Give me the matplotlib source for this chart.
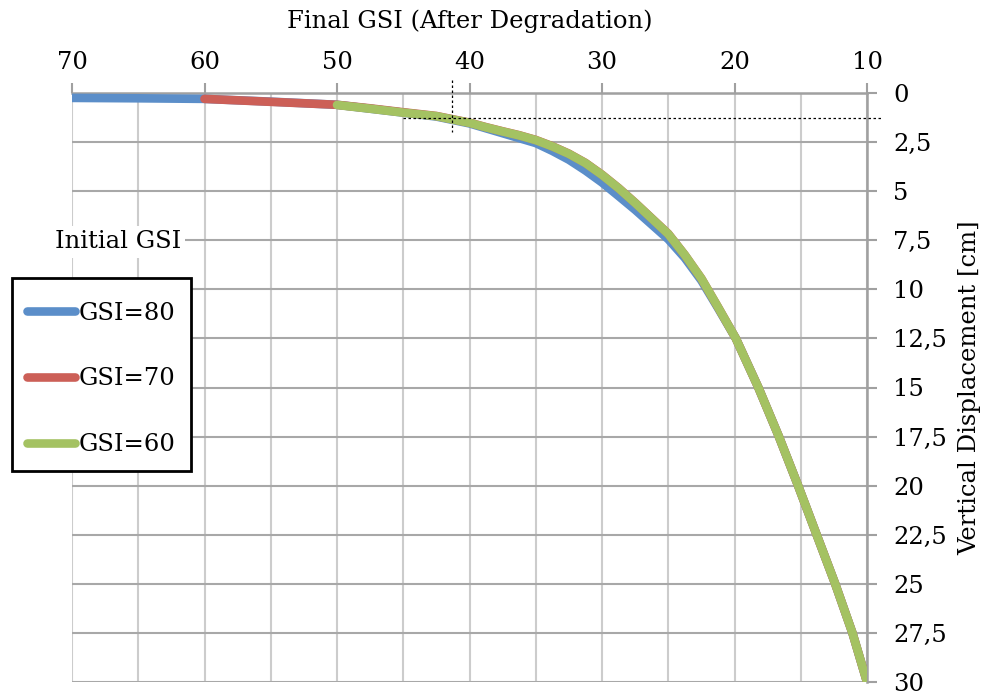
import matplotlib
matplotlib.use("Agg")
import matplotlib.pyplot as plt
from matplotlib.patches import Rectangle
from matplotlib.ticker import MultipleLocator, FuncFormatter

plt.rcParams['font.family'] = ['DejaVu Serif']

# final GSI after degradation vs vertical displacement [cm]
gsi80_x = [70, 65, 60, 55, 50, 45, 42.5, 40, 38.75, 37.5, 36.25, 35, 33.75, 32.5, 31.25, 30,
           28.75, 27.5, 26.25, 25, 23.75, 22.5, 21.25, 19.9, 18.2, 16.65, 15.2, 13.8, 12.4, 11.1, 10]
gsi80_y = [0.25, 0.27, 0.3, 0.44, 0.6, 1.0, 1.2, 1.55, 1.8, 2.05, 2.3, 2.55, 2.95, 3.4, 3.95, 4.56,
           5.25, 5.95, 6.7, 7.45, 8.4, 9.55, 10.95, 12.5, 15, 17.5, 20, 22.5, 25, 27.5, 30]

gsi70_x = [60, 55, 50, 47.5, 45, 42.5, 40, 38.75, 37.5, 36.25, 35, 33.75, 32.5, 31.25, 30,
           28.75, 27.5, 26.25, 25, 23.75, 22.5, 21.25, 19.9, 18.2, 16.65, 15.2, 13.8, 12.4, 11.1, 10]
gsi70_y = [0.3, 0.45, 0.6, 0.78, 0.98, 1.17, 1.51, 1.74, 1.95, 2.15, 2.39, 2.71, 3.09, 3.56, 4.16,
           4.84, 5.59, 6.38, 7.17, 8.25, 9.45, 10.9, 12.5, 15, 17.5, 20, 22.5, 25, 27.5, 30]

gsi60_x = [50, 47.5, 45, 42.5, 40, 38.75, 37.5, 36.25, 35, 33.75, 32.5, 31.25, 30,
           28.75, 27.5, 26.25, 25, 23.75, 22.5, 21.25, 19.9, 18.2, 16.65, 15.2, 13.8, 12.4, 11.1, 10]
gsi60_y = [0.61, 0.8, 1.0, 1.18, 1.52, 1.75, 1.96, 2.16, 2.4, 2.72, 3.1, 3.57, 4.17,
           4.85, 5.6, 6.39, 7.18, 8.25, 9.45, 10.9, 12.5, 15, 17.5, 20, 22.5, 25, 27.5, 30]

labels = ['GSI=80', 'GSI=70', 'GSI=60']
colors = ['#5b8ec9', '#cc5f57', '#a4c262']

# reading guide (dotted cross)
guide_x = 41.35
guide_y = 1.29

FS = 17.5
W, H = 990, 695

fig = plt.figure(figsize=(9.9, 6.95), dpi=100)
ax = fig.add_axes([72 / W, 1 - 682 / H, (867 - 72) / W, (682 - 93) / H])

series = [(gsi80_x, gsi80_y), (gsi70_x, gsi70_y), (gsi60_x, gsi60_y)]
handles = []
for (xs, ys), lab, c in zip(series, labels, colors):
    ln, = ax.plot(xs, ys, color=c, lw=6.2, label=lab, solid_capstyle='round',
                  solid_joinstyle='round', zorder=3)
    handles.append(ln)

ax.plot([guide_x, guide_x], [-0.65, 2.0], color='black', lw=0.9, ls=(0, (2, 2)),
        clip_on=False, zorder=4)
ax.plot([45, 8.9], [guide_y, guide_y], color='black', lw=0.9, ls=(0, (2, 2)),
        clip_on=False, zorder=4)

ax.set_xlim(70, 10)
ax.set_ylim(30, 0)

ax.xaxis.tick_top()
ax.xaxis.set_label_position('top')
ax.yaxis.tick_right()
ax.yaxis.set_label_position('right')

ax.xaxis.set_major_locator(MultipleLocator(10))
ax.xaxis.set_minor_locator(MultipleLocator(5))
ax.yaxis.set_major_locator(MultipleLocator(2.5))
ax.yaxis.set_major_formatter(FuncFormatter(lambda v, p: ('%g' % v).replace('.', ',')))

ax.grid(axis='x', which='both', color='#cccccc', lw=1.5, zorder=0)
ax.grid(axis='y', which='major', color='#a8a8a8', lw=1.5, zorder=0)
ax.set_axisbelow(True)

for s in ['left', 'bottom']:
    ax.spines[s].set_visible(False)
for s in ['top', 'right']:
    ax.spines[s].set_color('#a0a0a0')
    ax.spines[s].set_linewidth(1.8)

ax.tick_params(axis='x', which='major', direction='out', length=7, width=1.5,
               color='#a0a0a0', labelsize=FS, pad=7)
ax.tick_params(axis='x', which='minor', length=0)
ax.tick_params(axis='y', direction='out', length=7, width=1.5,
               color='#a0a0a0', labelsize=FS, pad=12)
for t in ax.get_yticklabels():
    t.set_horizontalalignment('left')

ax.set_xlabel('Final GSI (After Degradation)', fontsize=FS, labelpad=16)
ax.set_ylabel('Vertical Displacement [cm]', fontsize=FS, labelpad=8)

fig.text(181 / W, 1 - 242 / H, 'Initial GSI', fontsize=FS, ha='right', va='center',
         bbox=dict(facecolor='white', edgecolor='none', pad=3), zorder=5)

# legend box
fig.patches.append(Rectangle((12 / W, 1 - 471 / H), 179 / W, 193 / H, transform=fig.transFigure,
                             facecolor='white', edgecolor='black', lw=2.0, zorder=5))
fig.legend(handles, labels, loc='upper left', bbox_to_anchor=(12 / W, 1 - 287 / H),
           bbox_transform=fig.transFigure, fontsize=FS, frameon=False,
           handlelength=2.0, handletextpad=0.15, labelspacing=1.76,
           borderpad=0.6, borderaxespad=0).set_zorder(6)

fig.savefig('out.png', dpi=100)
